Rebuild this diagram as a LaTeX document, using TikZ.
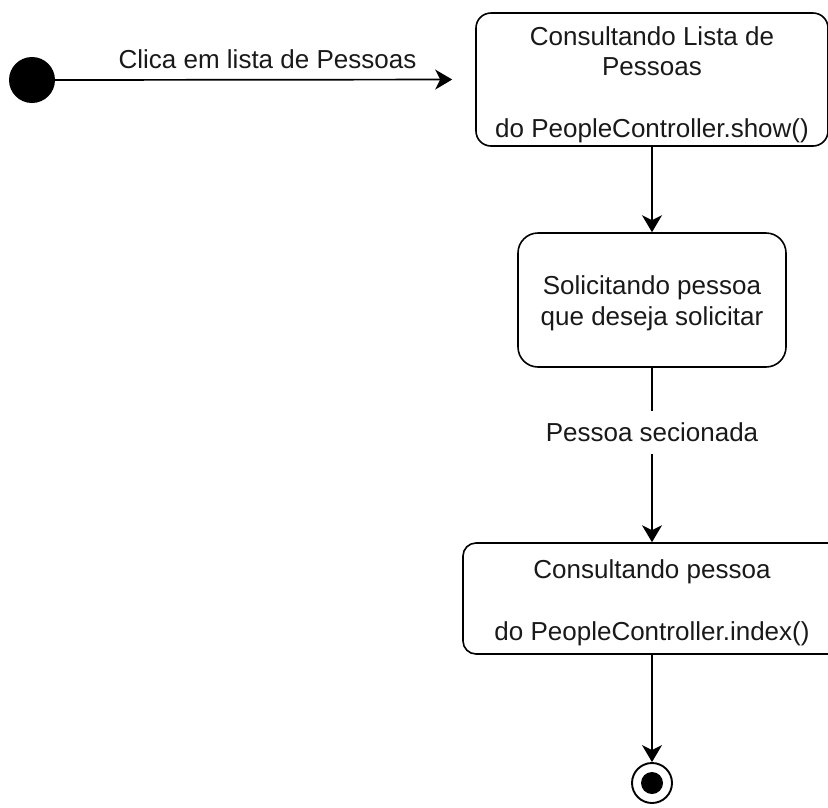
\documentclass[tikz,border=0pt]{standalone}
\usepackage{fontspec}
\setmainfont{Liberation Sans}
\usetikzlibrary{arrows.meta}
\begin{document}
\begin{tikzpicture}[x=1pt,y=-1pt,
  txt/.style={font=\fontsize{26}{31}\selectfont, inner sep=0pt, anchor=base, text=black!90},
  state/.style={draw, line width=1.6pt, inner sep=0pt},
  arr/.style={line width=1.7pt, -{Stealth[length=17pt,width=20pt,inset=5pt]}}]
\useasboundingbox (0,0) rectangle (828,807);
\clip (0,0) rectangle (828,807);
% initial state
\node[circle, fill=black, minimum size=46pt, inner sep=0pt] (init) at (32,80) {};
% state 1
\node[state, rounded corners=15pt, minimum width=352pt, minimum height=133pt] (b1) at (652,79.5) {};
\node[txt] (b1a) at (652,45) {Consultando Lista de};
\node[txt] (b1b) at (652,75) {Pessoas};
\node[txt] (b1c) at (652,137) {do PeopleController.show()};
% state 2
\node[state, rounded corners=20pt, minimum width=268pt, minimum height=134pt] (b2) at (652,300) {};
\node[txt] (b2a) at (652,294) {Solicitando pessoa};
\node[txt] (b2b) at (652,325) {que deseja solicitar};
% state 3
\node[state, rounded corners=13pt, minimum width=378pt, minimum height=111pt] (b3) at (652,598.5) {};
\node[txt] (b3a) at (652,578) {Consultando pessoa};
\node[txt] (b3b) at (652,640) {do PeopleController.index()};
% final state
\node[circle, draw, line width=1.9pt, minimum size=40pt, inner sep=0pt] (fin) at (652,783) {};
\node[circle, fill=black, minimum size=22pt, inner sep=0pt] (finin) at (fin.center) {};
% connectors
\node[txt] (l1) at (267.5,68) {Clica em lista de Pessoas};
\draw[arr, shorten >=23pt] (init.east) -- (b1.west);
\draw[arr] (b1.south) -- (b2.north);
\draw[arr] (b2.south) -- node[pos=0.37, fill=white, inner sep=0pt, minimum height=43pt, font=\fontsize{26}{31}\selectfont, text=black!90] (l2) {Pessoa secionada} (b3.north);
\draw[arr] (b3.south) -- (fin.north);
\end{tikzpicture}
\end{document}
